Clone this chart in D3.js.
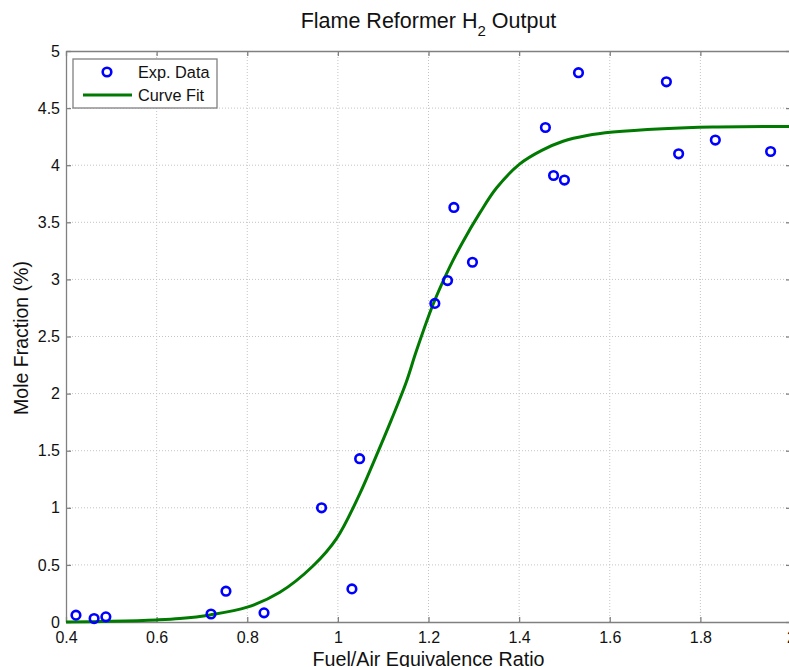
<!DOCTYPE html>
<html><head><meta charset="utf-8">
<script src="https://cdn.jsdelivr.net/npm/d3@7"></script>
<style>body{margin:0;background:#fff;overflow:hidden}svg{display:block}text{font-family:"Liberation Sans",Arial,Helvetica,sans-serif}</style>
</head><body>
<script>
// Data
const expX = [0.422,0.462,0.488,0.720,0.753,0.837,0.964,1.031,1.048,1.214,1.242,1.256,1.297,1.458,1.476,1.500,1.531,1.725,1.752,1.833,1.955];
const expY = [0.06,0.03,0.045,0.07,0.27,0.08,1.00,0.29,1.43,2.79,2.99,3.63,3.15,4.33,3.91,3.87,4.81,4.73,4.10,4.22,4.12];
const fitX = [0.40,0.50,0.60,0.651,0.718,0.80,0.872,0.945,0.997,1.048,1.081,1.118,1.150,1.173,1.21,1.247,1.276,1.313,1.35,1.401,1.45,1.497,1.55,1.607,1.717,1.827,2.00];
const fitY = [0.00,0.006,0.018,0.03,0.062,0.13,0.26,0.49,0.73,1.12,1.42,1.77,2.09,2.37,2.78,3.11,3.33,3.58,3.80,4.01,4.13,4.21,4.26,4.29,4.32,4.335,4.34];
const xTicks = [0.4,0.6,0.8,1,1.2,1.4,1.6,1.8,2];
const yTicks = [0,0.5,1,1.5,2,2.5,3,3.5,4,4.5,5];
const legendLabels = ["Exp. Data","Curve Fit"];

const W = 789, H = 667;
const L = 66, R = 791, T = 51, B = 622;
const svg = d3.select("body").append("svg").attr("width", W).attr("height", H);
const x = d3.scaleLinear().domain([0.4, 2]).range([L, R]);
const y = d3.scaleLinear().domain([0, 5]).range([B, T]);
const axisCol = "#808080";

// grid
const g = svg.append("g");
g.selectAll(".gx").data(xTicks.slice(1,-1)).join("line")
  .attr("x1", d=>x(d)).attr("x2", d=>x(d)).attr("y1", T).attr("y2", B)
  .attr("stroke", "#c4c4c4").attr("stroke-width", 1).attr("stroke-dasharray", "1,2");
g.selectAll(".gy").data(yTicks.slice(1,-1)).join("line")
  .attr("x1", L).attr("x2", R).attr("y1", d=>y(d)).attr("y2", d=>y(d))
  .attr("stroke", "#c4c4c4").attr("stroke-width", 1).attr("stroke-dasharray", "1,2");

// axes
const fmt = d => String(d);
const ax = svg.append("g").attr("transform", `translate(0,${B})`)
  .call(d3.axisBottom(x).tickValues(xTicks).tickFormat(fmt).tickSizeInner(-5).tickSizeOuter(0).tickPadding(10));
const ay = svg.append("g").attr("transform", `translate(${L},0)`)
  .call(d3.axisLeft(y).tickValues(yTicks).tickFormat(fmt).tickSizeInner(-5).tickSizeOuter(0).tickPadding(6));
const axT = svg.append("g").attr("transform", `translate(0,${T})`)
  .call(d3.axisTop(x).tickValues(xTicks).tickFormat("").tickSizeInner(-5).tickSizeOuter(0));
const ayR = svg.append("g").attr("transform", `translate(${R},0)`)
  .call(d3.axisRight(y).tickValues(yTicks).tickFormat("").tickSizeInner(-5).tickSizeOuter(0));
[ax, ay, axT, ayR].forEach(a => {
  a.selectAll("path").attr("stroke", axisCol).attr("stroke-width", 1.3);
  a.selectAll("line").attr("stroke", axisCol).attr("stroke-width", 1.3);
  a.selectAll("text").attr("fill", "#111").style("font-size", "16px");
});

// curve
const line = d3.line().x((d,i)=>x(fitX[i])).y((d,i)=>y(fitY[i])).curve(d3.curveCatmullRom.alpha(0.5));
svg.append("path").datum(fitY).attr("d", line).attr("fill", "none")
  .attr("stroke", "#007a00").attr("stroke-width", 3);

// points
svg.selectAll(".pt").data(expX).join("circle")
  .attr("cx", d=>x(d)).attr("cy", (d,i)=>y(expY[i])).attr("r", 4.3)
  .attr("fill", "none").attr("stroke", "#0000ff").attr("stroke-width", 2.6);

// legend
const lg = svg.append("g");
lg.append("rect").attr("x", 73).attr("y", 59).attr("width", 144).attr("height", 49)
  .attr("fill", "#fff").attr("stroke", axisCol).attr("stroke-width", 1.3);
lg.append("circle").attr("cx", 107).attr("cy", 72).attr("r", 4.3)
  .attr("fill", "none").attr("stroke", "#0000ff").attr("stroke-width", 2.6);
lg.append("line").attr("x1", 83).attr("x2", 132).attr("y1", 95).attr("y2", 95)
  .attr("stroke", "#007a00").attr("stroke-width", 3);
lg.selectAll(".lt").data(legendLabels).join("text")
  .attr("x", 138).attr("y", (d,i)=> i===0 ? 78 : 101).text(d=>d)
  .style("font-size", "16.3px").attr("fill", "#111");

// title
const title = svg.append("text").attr("x", (L+R)/2).attr("y", 28).attr("text-anchor", "middle")
  .style("font-size", "21.5px").attr("fill", "#111");
title.append("tspan").text("Flame Reformer H");
title.append("tspan").attr("dy", 8).style("font-size", "15px").text("2");
title.append("tspan").attr("dy", -8).text(" Output");

// axis labels
svg.append("text").attr("x", (L+R)/2).attr("y", 666).attr("text-anchor", "middle")
  .style("font-size", "19.7px").attr("fill", "#111").text("Fuel/Air Equivalence Ratio");
svg.append("text").attr("transform", "translate(28,338) rotate(-90)").attr("text-anchor", "middle")
  .style("font-size", "19.5px").attr("fill", "#111").text("Mole Fraction (%)");
</script>
</body></html>
